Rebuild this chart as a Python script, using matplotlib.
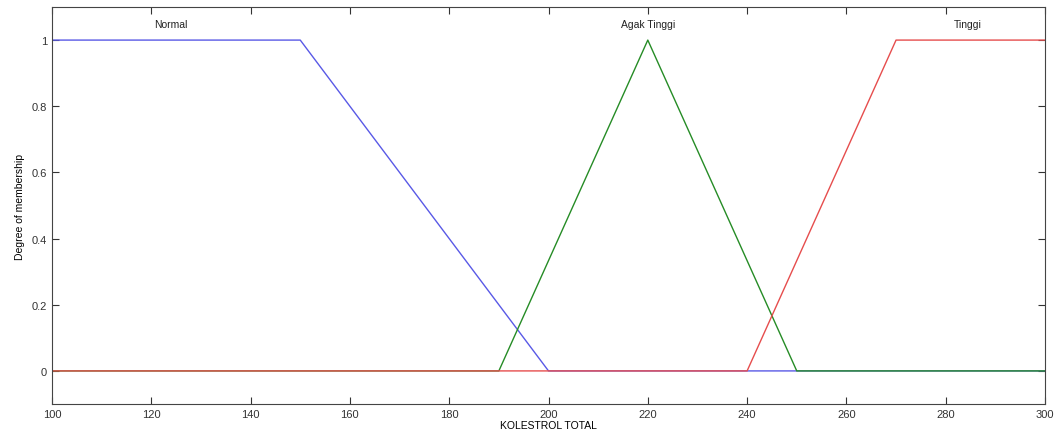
import matplotlib
matplotlib.use("Agg")
import matplotlib.pyplot as plt

# membership functions (x breakpoints, y values)
normal_x = [100, 150, 200, 300]
normal_y = [1, 1, 0, 0]
agak_x = [100, 190, 220, 250, 300]
agak_y = [0, 0, 1, 0, 0]
tinggi_x = [100, 240, 270, 300]
tinggi_y = [0, 0, 1, 1]

labels = ["Normal", "Agak Tinggi", "Tinggi"]
label_x = [124, 220, 284.5]

plt.rcParams['font.family'] = ['Liberation Sans', 'DejaVu Sans']

fig = plt.figure(figsize=(10.56, 4.35), dpi=100)
ax = fig.add_axes([52/1056, 1 - 405/435, (1045-52)/1056, (405-8)/435])

ax.plot(normal_x, normal_y, color=(0.35, 0.35, 0.9), lw=1)
ax.plot(agak_x, agak_y, color=(0.15, 0.55, 0.15), lw=1)
ax.plot(tinggi_x, tinggi_y, color=(0.9, 0.3, 0.3), lw=1)

for lab, x in zip(labels, label_x):
    ax.text(x, 1.05, lab, ha='center', va='center', fontsize=7.5, color='#222222')

ax.set_xlim(100, 300)
ax.set_ylim(-0.1, 1.1)
ax.set_xticks(range(100, 301, 20))
ax.set_yticks([0, 0.2, 0.4, 0.6, 0.8, 1])
ax.set_yticklabels(['0', '0.2', '0.4', '0.6', '0.8', '1'])
ax.tick_params(direction='in', top=True, right=True, labelsize=8, length=5, width=0.8, colors='#333333')
for s in ax.spines.values():
    s.set_color('#444444')
    s.set_linewidth(0.8)

ax.set_xlabel('KOLESTROL TOTAL', fontsize=7.5, labelpad=1)
ax.set_ylabel('Degree of membership', fontsize=7.5, labelpad=5)

fig.savefig('out.png', dpi=100)
